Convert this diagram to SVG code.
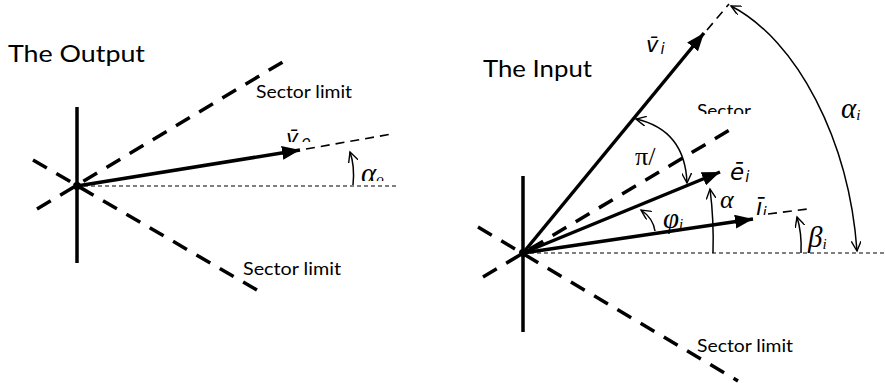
<svg xmlns="http://www.w3.org/2000/svg" width="885" height="383" viewBox="0 0 885 383">
<style>
.title{font-family:Lato,"Liberation Sans",sans-serif;font-size:23px;fill:#000}
.lbl{font-family:Lato,"Liberation Sans",sans-serif;font-size:17px;fill:#000}
.vec{font-family:"DejaVu Sans","Liberation Sans",sans-serif;font-style:italic;font-size:21px;fill:#000}
.gr{font-family:"Liberation Serif","DejaVu Serif",serif;font-style:italic;font-size:29px;fill:#000}
.sub{font-size:15px}
.thick{stroke:#000;stroke-width:3.5;fill:none}
.tdash{stroke:#000;stroke-width:3.5;fill:none;stroke-dasharray:16 11}
.fine{stroke:#000;stroke-width:1.2;fill:none;stroke-dasharray:4 3}
.mdash{stroke:#000;stroke-width:1.6;fill:none;stroke-dasharray:9 6}
.arc{stroke:#000;stroke-width:1.5;fill:none}
</style>
<defs>
<marker id="ah" markerUnits="userSpaceOnUse" markerWidth="20" markerHeight="14" refX="18" refY="7" orient="auto"><path d="M0,0 L18,7 L0,14 z" fill="#000"/></marker>
<marker id="oa" markerUnits="userSpaceOnUse" markerWidth="12" markerHeight="10" refX="10" refY="5" orient="auto-start-reverse"><path d="M0,0 L10,5 L0,10" fill="none" stroke="#000" stroke-width="1.4"/></marker>
<clipPath id="c1"><rect x="280" y="120" width="50" height="22"/></clipPath>
<clipPath id="c2"><rect x="355" y="160" width="50" height="21"/></clipPath>
<clipPath id="c3"><rect x="690" y="90" width="80" height="24"/></clipPath>
<clipPath id="c4"><rect x="750" y="185" width="30" height="30"/></clipPath>
</defs>

<g id="output-diagram">
<text class="title" x="8" y="62" textLength="137" lengthAdjust="spacingAndGlyphs">The Output</text>
<g id="output-axes">
<line class="thick" x1="77" y1="107" x2="77" y2="263"/>
<line class="fine" x1="77" y1="186" x2="398" y2="186"/>
</g>
<g id="output-sector-upper">
<line class="tdash" x1="37" y1="209" x2="291" y2="57"/>
<text class="lbl" x="256" y="98" textLength="96" lengthAdjust="spacingAndGlyphs">Sector limit</text>
</g>
<g id="output-sector-lower">
<line class="tdash" x1="33" y1="160" x2="262" y2="293"/>
<text class="lbl" x="243" y="275" textLength="98" lengthAdjust="spacingAndGlyphs">Sector limit</text>
</g>
<g id="output-vector">
<line class="thick" x1="77" y1="186" x2="300" y2="150" marker-end="url(#ah)"/>
<line class="mdash" x1="306" y1="149" x2="392" y2="134"/>
<text class="vec" x="286" y="145" clip-path="url(#c1)">v̄<tspan class="sub" dx="3" dy="2">o</tspan></text>
</g>
<g id="output-angle">
<path class="arc" d="M353,185 Q355,166 350,152" marker-end="url(#oa)"/>
<text class="gr" x="361" y="183" clip-path="url(#c2)">α<tspan class="sub" dy="1">o</tspan></text>
</g>
<circle cx="77" cy="186" r="4" fill="#000"/>
</g>

<g id="input-diagram">
<text class="title" x="483" y="77" textLength="109" lengthAdjust="spacingAndGlyphs">The Input</text>
<g id="input-axes">
<line class="thick" x1="523" y1="176" x2="523" y2="332"/>
<line class="fine" x1="523" y1="253" x2="885" y2="253"/>
</g>
<g id="input-sector-mid">
<line class="tdash" x1="483" y1="277" x2="738" y2="125"/>
<text class="lbl" x="697" y="117" textLength="54" lengthAdjust="spacingAndGlyphs" clip-path="url(#c3)">Sector</text>
</g>
<g id="input-sector-lower">
<line class="tdash" x1="478" y1="227" x2="738" y2="381"/>
<text class="lbl" x="697" y="352" textLength="96" lengthAdjust="spacingAndGlyphs">Sector limit</text>
</g>
<g id="input-vi">
<line class="thick" x1="523" y1="253" x2="704" y2="33" marker-end="url(#ah)"/>
<line class="mdash" x1="707" y1="30" x2="729" y2="4"/>
<text class="vec" x="646" y="52">v̄<tspan class="sub" dx="2" dy="2">i</tspan></text>
</g>
<g id="input-ei">
<line class="thick" x1="523" y1="253" x2="720" y2="172" marker-end="url(#ah)"/>
<text class="vec" x="730" y="180" style="font-size:23px">ē<tspan class="sub" dx="1" dy="2">i</tspan></text>
</g>
<g id="input-ii">
<line class="thick" x1="523" y1="253" x2="753" y2="219" marker-end="url(#ah)"/>
<line class="mdash" x1="768" y1="214" x2="808" y2="209"/>
<text class="vec" x="756" y="215" style="font-size:23px" clip-path="url(#c4)">ī<tspan class="sub" dx="0" dy="3">i</tspan></text>
</g>
<g id="angle-alpha-i">
<path class="arc" d="M731,6 C797,40 849,140 857,251" marker-start="url(#oa)" marker-end="url(#oa)"/>
<text class="gr" x="841" y="118">α<tspan class="sub" dy="2">i</tspan></text>
</g>
<g id="angle-pi">
<path class="arc" d="M636,119 Q685,130 687,183" marker-start="url(#oa)" marker-end="url(#oa)"/>
<text x="635" y="165" style="font-family:'Liberation Serif',serif;font-size:26px">π/</text>
</g>
<g id="angle-alpha-e">
<path class="arc" d="M713,253 Q714,220 710,189" marker-end="url(#oa)"/>
<text class="gr" x="720" y="208" style="font-size:26px">α</text>
</g>
<g id="angle-phi">
<path class="arc" d="M655,231 Q653,218 641,210" marker-end="url(#oa)"/>
<text class="gr" x="663" y="228">φ<tspan class="sub" dy="1">i</tspan></text>
</g>
<g id="angle-beta">
<path class="arc" d="M801,253 Q802,233 797,217" marker-end="url(#oa)"/>
<text class="gr" x="808" y="247">β<tspan class="sub" dy="2">i</tspan></text>
</g>
<circle cx="523" cy="253" r="4" fill="#000"/>
</g>
</svg>
